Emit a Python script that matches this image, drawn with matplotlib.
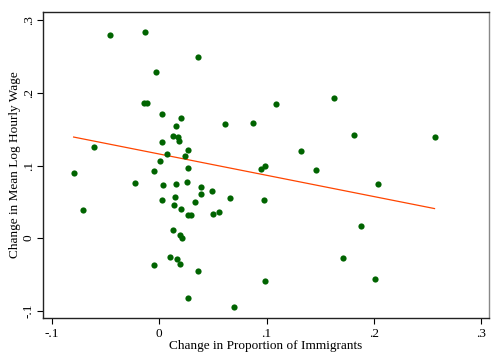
import numpy as np
import matplotlib
matplotlib.use("Agg")
import matplotlib.pyplot as plt

plt.rcParams['font.family'] = ['Liberation Serif', 'DejaVu Serif']

# change in proportion of immigrants (x) and change in mean log hourly wage (y)
imm = [-0.0458, -0.0135, 0.0361, -0.0030, -0.0139, -0.0116, 0.0029, 0.0206, 0.0615,
       0.0159, 0.0128, 0.0178, 0.0184, 0.0026, -0.0604, 0.0271, 0.0070, 0.0240,
       0.0010, 0.0265, -0.0048, -0.0795, -0.0222, 0.0040, 0.0153, 0.0259, 0.0393,
       0.0393, 0.0494, 0.0663, 0.0026, 0.0150, 0.0330, 0.0136, 0.0206, 0.0270,
       0.0300, 0.0502, 0.0559, -0.0704, 0.0128, 0.0195, 0.0214, 0.0098, 0.0167,
       0.0193, -0.0047, 0.0358, 0.0265, 0.0696, 0.1084, 0.1626, 0.0875, 0.1815,
       0.2563, 0.1322, 0.0984, 0.0947, 0.1459, 0.2038, 0.0972, 0.1877, 0.1713,
       0.0987, 0.2010]
wage = [0.2801, 0.2838, 0.2501, 0.2290, 0.1866, 0.1855, 0.1706, 0.1648, 0.1568,
        0.1544, 0.1409, 0.1390, 0.1340, 0.1319, 0.1254, 0.1209, 0.1164, 0.1126,
        0.1061, 0.0968, 0.0930, 0.0895, 0.0764, 0.0729, 0.0743, 0.0771, 0.0706,
        0.0612, 0.0646, 0.0547, 0.0519, 0.0561, 0.0499, 0.0450, 0.0407, 0.0325,
        0.0325, 0.0333, 0.0360, 0.0394, 0.0117, 0.0048, -0.0003, -0.0256, -0.0290,
        -0.0362, -0.0366, -0.0449, -0.0822, -0.0945, 0.1852, 0.1935, 0.1586, 0.1424,
        0.1396, 0.1199, 0.0992, 0.0950, 0.0936, 0.0747, 0.0526, 0.0173, -0.0269,
        -0.0597, -0.0569]

# fitted line as shown (intercept, slope)
fit_a = 0.1159
fit_b = -0.2933

ticks = [-0.1, 0, 0.1, 0.2, 0.3]
tick_labels = ['-.1', '0', '.1', '.2', '.3']

x = np.array(imm)
y = np.array(wage)
xs = np.array([x.min(), x.max()])

fig = plt.figure(figsize=(5, 3.62), dpi=100)
ax = fig.add_axes([0.086, 0.1215, 0.892, 0.8455])

ax.scatter(x, y, s=20, color='#006400', zorder=3, linewidths=0)
ax.plot(xs, fit_a + fit_b * xs, color='#ff4500', lw=0.9, zorder=2)

ax.set_xlim(-0.108, 0.307)
ax.set_ylim(-0.110, 0.3115)
ax.set_xticks(ticks)
ax.set_xticklabels(tick_labels)
ax.set_yticks(ticks)
ax.set_yticklabels(tick_labels, rotation=90, va='center')
ax.tick_params(direction='out', length=4, width=0.8, labelsize=9.5, pad=3)
ax.tick_params(axis='y', pad=2)

for s in ['left', 'bottom', 'top']:
    ax.spines[s].set_color('#222222')
    ax.spines[s].set_linewidth(1.0)
ax.spines['right'].set_color('#888888')
ax.spines['right'].set_linewidth(1.0)

ax.set_xlabel('Change in Proportion of Immigrants', fontsize=9.5, labelpad=0)
ax.set_ylabel('Change in Mean Log Hourly Wage', fontsize=9.5, labelpad=1)

fig.savefig('out.png', dpi=100)
